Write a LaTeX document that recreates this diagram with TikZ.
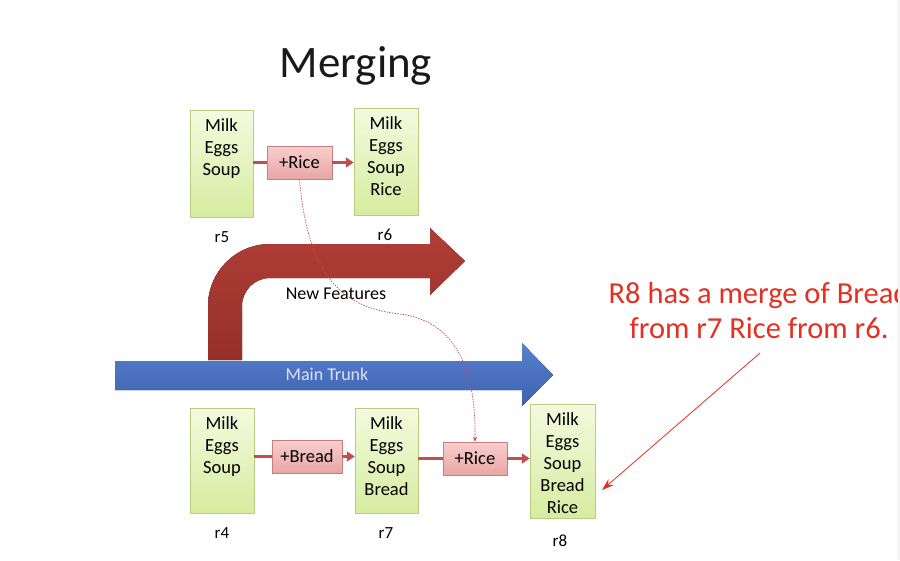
\documentclass[tikz,border=0pt]{standalone}
\usepackage{fontspec}
\setmainfont{Carlito}
\usetikzlibrary{arrows.meta}

\definecolor{trunktop}{RGB}{88,128,204}
\definecolor{trunkbot}{RGB}{62,98,176}
\definecolor{featred}{RGB}{176,62,54}
\definecolor{featdark}{RGB}{150,48,42}
\definecolor{revtop}{RGB}{244,250,222}
\definecolor{revbot}{RGB}{214,236,160}
\definecolor{revedge}{RGB}{184,204,130}
\definecolor{chtop}{RGB}{248,206,206}
\definecolor{chbot}{RGB}{232,166,164}
\definecolor{chedge}{RGB}{204,124,122}
\definecolor{flowred}{RGB}{192,80,77}
\definecolor{notered}{RGB}{226,48,34}

\begin{document}
\begin{tikzpicture}[x=1pt, y=-1pt, >=Stealth,
	rev/.style={draw=revedge, top color=revtop, bottom color=revbot, inner sep=0pt},
	change/.style={draw=chedge, top color=chtop, bottom color=chbot, inner sep=0pt,
		minimum height=33, text=black, font=\fontsize{18.5}{22}\selectfont},
	items/.style={align=center, inner sep=0pt, text=black, font=\fontsize{18.5}{22}\selectfont},
	lab/.style={font=\fontsize{17}{20}\selectfont, text=black},
	flow/.style={line width=3pt, draw=flowred, -{Triangle[length=8pt,width=10pt]}},
	link/.style={line width=3pt, draw=flowred}]
	
	% Page size and clipping
	\useasboundingbox (0,0) rectangle (900,560);
	\fill[black!4] (897,0) rectangle (900,560);
	\clip (0,0) rectangle (897,560);
	
	% Title
	\node[font=\fontsize{45}{50}\selectfont, text=black!90] (title) at (356,66) {Merging};
	
	% Branch and trunk arrows
	\fill[top color=featred, bottom color=featdark]
		(208,360) {[rounded corners=62pt] -- (208,244) -- (330,244)} -- (430,244) -- (430,228)
		-- (465,261) -- (430,295) -- (430,278) {[rounded corners=28pt] -- (242,278) -- (242,330)}
		-- (242,360) -- cycle;
	\fill[top color=trunktop, bottom color=trunkbot]
		(115,361) -- (522,361) -- (522,343) -- (553,375) -- (522,406) -- (522,390) -- (115,390) -- cycle;
	\node[lab, font=\fontsize{18}{20}\selectfont] (feat) at (336,294) {New Features};
	\node[font=\fontsize{18}{20}\selectfont, text=white!88!blue] (trunk) at (327,374) {Main Trunk};
	
	% Revisions on the branch
	\node[rev, minimum width=63, minimum height=107] (r5) at (221.5,163.5) {};
	\node[rev, minimum width=64, minimum height=107] (r6) at (386,161.5) {};
	\node[change, minimum width=65] (rice1) at (299.5,162.5) {+Rice};
	\node[items, below=9pt] at (r5.north) {Milk\\Eggs\\Soup};
	\node[items, below=9pt] at (r6.north) {Milk\\Eggs\\Soup\\Rice};
	\node[lab] at (222,237) {r5};
	\node[lab] at (385,235) {r6};
	
	% Revisions on the trunk
	\node[rev, minimum width=64, minimum height=105] (r4) at (222,460.5) {};
	\node[rev, minimum width=63, minimum height=105] (r7) at (386.5,460.5) {};
	\node[rev, minimum width=65, minimum height=114] (r8) at (562.5,461) {};
	\node[change, minimum width=70] (bread) at (307,456.5) {+Bread};
	\node[change, minimum width=64] (rice2) at (475,458.5) {+Rice};
	\node[items, below=9pt] at (r4.north) {Milk\\Eggs\\Soup};
	\node[items, below=9pt] at (r7.north) {Milk\\Eggs\\Soup\\Bread};
	\node[items, below=9pt] at (r8.north) {Milk\\Eggs\\Soup\\Bread\\Rice};
	\node[lab] at (222,533) {r4};
	\node[lab] at (386,533) {r7};
	\node[lab] at (560,541) {r8};
	
	% Change flow
	\draw[link] (rice1.west -| r5.east) -- (rice1.west);
	\draw[flow] (rice1.east) -- (rice1.east -| r6.west);
	\draw[link] (bread.west -| r4.east) -- (bread.west);
	\draw[flow] (bread.east) -- (bread.east -| r7.west);
	\draw[link] (rice2.west -| r7.east) -- (rice2.west);
	\draw[flow] (rice2.east) -- (rice2.east -| r8.west);
	
	% Merge of the branch change
	\draw[flowred, dash pattern=on 1.5pt off 1.2pt, line width=0.7pt, -{Stealth[length=5pt,width=4pt]}]
		(rice1.south) .. controls (308,280) and (345,308) .. (400,314)
		.. controls (462,322) and (476,380) .. (rice2.north);
	
	% Note
	\node[align=center, text=notered, font=\fontsize{30.5}{35}\selectfont] (note) at (759,311)
		{R8 has a merge of Bread\\from r7 Rice from r6.};
	\coordinate (from) at (760,353);
	\coordinate (tip) at (602,490);
	\draw[notered, line width=0.8pt, -{Stealth[length=12pt,width=8pt]}] (from) -- (tip);
	
\end{tikzpicture}
\end{document}
